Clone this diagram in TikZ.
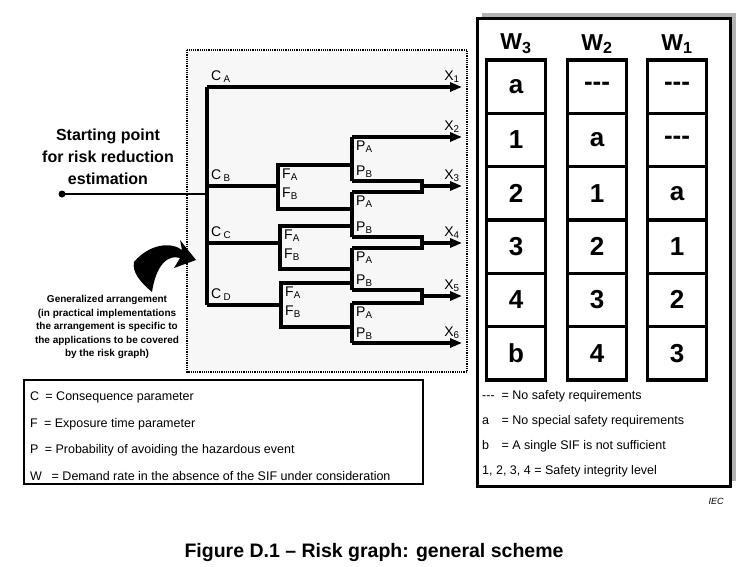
\documentclass[tikz,border=0pt]{standalone}
\usepackage{fontspec}
\setmainfont{Liberation Sans}
\usetikzlibrary{arrows.meta}
\newcommand{\nodash}{-{}-{}-}
\tikzset{branch/.style={line width=3.6pt},
    flow/.style={branch,-{Triangle[length=12pt,width=9pt]}},
    lab/.style={font=\fontsize{14}{14}\selectfont,inner sep=1pt},
    cell/.style={draw,line width=3.4pt,minimum width=59pt,minimum height=53.3pt,
        font=\fontsize{26}{26}\selectfont\bfseries},
    note/.style={font=\fontsize{12.5}{12.5}\selectfont,anchor=west,inner sep=0pt}}

\begin{document}
\begin{tikzpicture}[x=1pt,y=-1pt]
    \useasboundingbox (0,0) rectangle (747,567);
    % graph area
    \draw[densely dotted,line width=1.2pt,fill=black!3] (187,50) rectangle (467,372);
    \fill (62,194) circle (3.5pt);
    \coordinate (start) at (62,194);
    \coordinate (trunk) at (207,194);
    \draw[line width=2.2pt] (start) -- (trunk);
    \draw[branch] (207,87) -- (207,305);
    \draw[flow] (207,87) -- (462,87);
    \draw[branch] (207,186) -- (278,186);
    \draw[branch] (207,243) -- (280,243);
    \draw[branch] (207,305) -- (281,305);
    % F branches
    \draw[branch] (352,165) -| (278,209) -- (352,209);
    \draw[branch] (352,226) -| (280,269) -- (352,269);
    \draw[branch] (352,283) -| (281,327) -- (352,327);
    % P branches
    \draw[branch] (352,137) -- (352,181);
    \draw[branch] (352,192) -- (352,237);
    \draw[branch] (352,248) -- (352,290);
    \draw[branch] (352,303) -- (352,343);
    \draw[flow] (352,137) -- (462,137);
    \draw[branch] (352,181) -| (422,192) -- (352,192);
    \draw[branch] (352,237) -| (422,248) -- (352,248);
    \draw[branch] (352,290) -| (422,303) -- (352,303);
    \draw[flow] (422,186) -- (462,186);
    \draw[flow] (422,243) -- (462,243);
    \draw[flow] (422,296) -- (462,296);
    \draw[flow] (352,343) -- (462,343);
    % labels
    \node[lab,anchor=south west] (ca) at (210,84) {C\,\textsubscript{A}};
    \node[lab,anchor=south west] (cb) at (210,183) {C\,\textsubscript{B}};
    \node[lab,anchor=south west] (cc) at (210,240) {C\,\textsubscript{C}};
    \node[lab,anchor=south west] (cd) at (210,302) {C\,\textsubscript{D}};
    \foreach \y/\n in {84/1,134/2,183/3,240/4,293/5,340/6}
        \node[lab,anchor=south] (x\n) at (452,\y) {X\textsubscript{\n}};
    \foreach \x/\y in {278/165,280/226,281/283}{
        \node[lab,anchor=north west] at (\x+3,\y+3) {F\textsubscript{A}};
        \node[lab,anchor=north west] at (\x+3,\y+22) {F\textsubscript{B}};}
    \foreach \y/\yy in {137/181,192/237,248/290,303/343}{
        \node[lab,anchor=north west] at (355,\y+3) {P\textsubscript{A}};
        \node[lab,anchor=south west] at (355,\yy-2) {P\textsubscript{B}};}
    \node[font=\fontsize{16}{22}\selectfont\bfseries,align=center] (startlabel) at (108,157)
        {Starting point\\for risk reduction\\estimation};
    \node[font=\fontsize{10}{13.5}\selectfont\bfseries,align=center] (general) at (107,327)
        {Generalized arrangement\\(in practical implementations\\the arrangement is specific to\\the applications to be covered\\by the risk graph)};
    \fill (134,262) .. controls (150,243) and (172,242) .. (182,250)
        -- (180,240) -- (196,260) -- (174,268) -- (180,258)
        .. controls (168,254) and (156,265) .. (152,292)
        .. controls (140,282) and (132,272) .. (134,262);
    % legend
    \draw[line width=1.2pt] (24,380) rectangle (423,484);
    \node[note] (lc) at (30,397) {C\enspace = Consequence parameter};
    \node[note] (lf) at (30,424) {F\enspace = Exposure time parameter};
    \node[note] (lp) at (30,450) {P\enspace = Probability of avoiding the hazardous event};
    \node[note] (lw) at (30,476) {W\enspace\ = Demand rate in the absence of the SIF under consideration};
    % table
    \fill[black!30] (482,13) rectangle (736,481);
    \draw[line width=3pt,fill=white] (477,19) rectangle (730,486);
    \foreach \x/\w in {516/3,597/2,677/1}
        \node[font=\fontsize{23}{23}\selectfont\bfseries] (w\w) at (\x,44) {W\textsubscript{\w}};
    \foreach [count=\i] \a/\b/\c in {a/\nodash/\nodash,1/a/\nodash,2/1/a,3/2/1,4/3/2,b/4/3}{
        \node[cell] (a\i) at (516,60+53.3*\i-26.65) {\a};
        \node[cell] (b\i) at (597,60+53.3*\i-26.65) {\b};
        \node[cell] (c\i) at (677,60+53.3*\i-26.65) {\c};}
    \node[note] (n1) at (482,396) {\nodash\ \ = No safety requirements};
    \node[note] (n2) at (482,421) {a\quad= No special safety requirements};
    \node[note] (n3) at (482,446) {b\quad= A single SIF is not sufficient};
    \node[note] (n4) at (482,471) {1, 2, 3, 4 = Safety integrity level};
    \node[font=\fontsize{9}{9}\selectfont\itshape] (iec) at (716,501) {IEC};
    \node[font=\fontsize{19.5}{19.5}\selectfont\bfseries] (caption) at (374,552)
        {Figure D.1 -- Risk graph: general scheme};
\end{tikzpicture}
\end{document}
